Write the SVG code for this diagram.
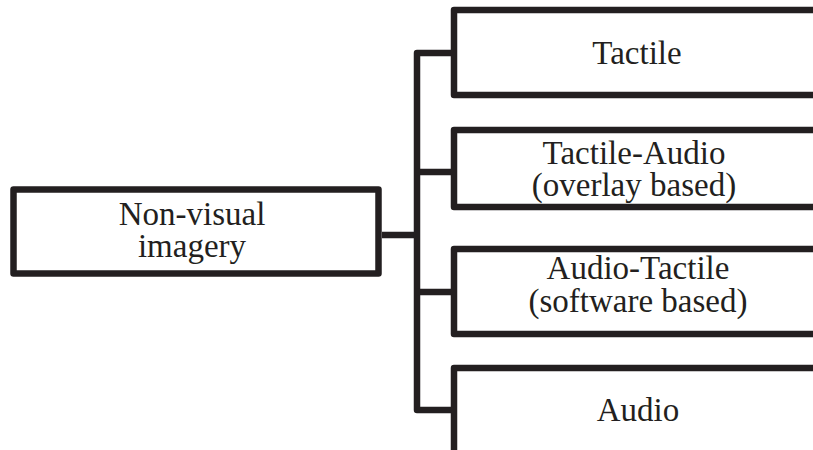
<svg xmlns="http://www.w3.org/2000/svg" width="813" height="450" viewBox="0 0 813 450">
<style>
.box{fill:#fff;stroke:#231f20;stroke-width:6.5;stroke-linejoin:round}
.con{fill:none;stroke:#231f20;stroke-width:6.5;stroke-linejoin:round}
.t{font-family:"Liberation Serif","DejaVu Serif",serif;font-size:33px;fill:#231f20;text-anchor:middle}
</style>
<rect width="813" height="450" fill="#fff"/>
<g id="connectors">
<line class="con" x1="382" y1="235" x2="417" y2="235"/>
<polyline class="con" points="454,53 417,53 417,410 454,410"/>
<line class="con" x1="417" y1="172" x2="454" y2="172"/>
<line class="con" x1="417" y1="292" x2="454" y2="292"/>
</g>
<g id="nonvisual">
<rect class="box" x="13.5" y="189.5" width="365" height="84"/>
<text class="t" x="192" y="225">Non-visual</text>
<text class="t" x="192" y="257">imagery</text>
</g>
<g id="tactile">
<rect class="box" x="454" y="10" width="380" height="85"/>
<text class="t" x="637" y="64">Tactile</text>
</g>
<g id="tactile-audio">
<rect class="box" x="454" y="130" width="380" height="77"/>
<text class="t" x="634" y="164">Tactile-Audio</text>
<text class="t" x="634" y="196">(overlay based)</text>
</g>
<g id="audio-tactile">
<rect class="box" x="454" y="249" width="380" height="85"/>
<text class="t" x="638" y="279">Audio-Tactile</text>
<text class="t" x="638" y="312">(software based)</text>
</g>
<g id="audio">
<rect class="box" x="454" y="368" width="380" height="100"/>
<text class="t" x="638" y="421">Audio</text>
</g>
</svg>
